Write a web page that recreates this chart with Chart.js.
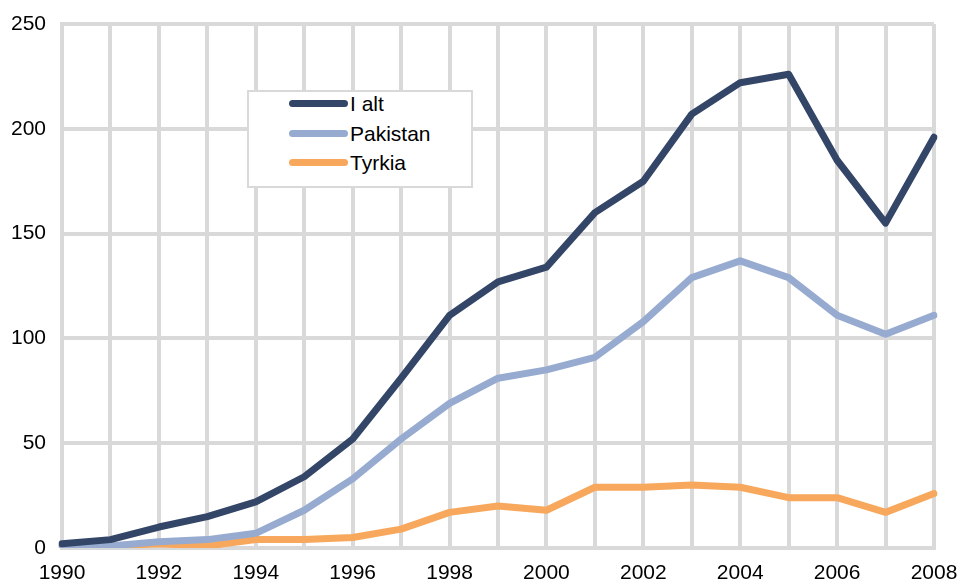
<!DOCTYPE html>
<html>
<head>
<meta charset="utf-8">
<script src="https://cdn.jsdelivr.net/npm/chart.js@4"></script>
<style>
  html, body { margin: 0; padding: 0; background: #fff; }
  #wrap { position: relative; width: 958px; height: 583px; }
  #legend {
    position: absolute; left: 247px; top: 90px; width: 222px; height: 94px;
    background: #fff; border: 2px solid #d9d9d9;
    font-family: "Liberation Sans", Arial, sans-serif; font-size: 21px; color: #000;
  }
  .item { position: absolute; left: 40px; height: 22px; line-height: 22px; }
  .item span.ln { position: absolute; left: 0; top: 7px; width: 59px; height: 7px; border-radius: 4px; }
  .item span.tx { position: absolute; left: 61px; top: 0; white-space: nowrap; }
</style>
</head>
<body>
<div id="wrap">
  <canvas id="chart" width="958" height="583"></canvas>
  <div id="legend"></div>
</div>
<script>
// Data
const years = ['1990','1991','1992','1993','1994','1995','1996','1997','1998','1999',
               '2000','2001','2002','2003','2004','2005','2006','2007','2008'];
const iAlt     = [2, 4, 10, 15, 22, 34, 52, 81, 111, 127, 134, 160, 175, 207, 222, 226, 185, 155, 196];
const pakistan = [1, 1, 3, 4, 7, 18, 33, 52, 69, 81, 85, 91, 108, 129, 137, 129, 111, 102, 111];
const tyrkia   = [1, 1, 2, 1, 4, 4, 5, 9, 17, 20, 18, 29, 29, 30, 29, 24, 24, 17, 26];
const yTicks = [0, 50, 100, 150, 200, 250];

const series = [
  { label: 'I alt', data: iAlt, color: '#344668' },
  { label: 'Pakistan', data: pakistan, color: '#97abd0' },
  { label: 'Tyrkia', data: tyrkia, color: '#f7a85c' }
];

const font = { family: '"Liberation Sans", Arial, sans-serif', size: 21 };
const gridColor = '#d9d9d9';

// Legend
const legend = document.getElementById('legend');
series.forEach((s, i) => {
  const div = document.createElement('div');
  div.className = 'item';
  div.style.top = (1 + i * 29.5) + 'px';
  div.innerHTML = `<span class="ln" style="background:${s.color}"></span><span class="tx">${s.label}</span>`;
  legend.appendChild(div);
});

const ctx = document.getElementById('chart').getContext('2d');
new Chart(ctx, {
  type: 'line',
  data: {
    labels: years,
    datasets: series.map(s => ({
      label: s.label,
      data: s.data,
      borderColor: s.color,
      backgroundColor: s.color,
      borderWidth: 7,
      pointRadius: 0,
      tension: 0,
      borderCapStyle: 'round',
      borderJoinStyle: 'round'
    }))
  },
  options: {
    responsive: false,
    animation: false,
    layout: { padding: { left: 0, right: 24, top: 24, bottom: 0 } },
    plugins: { legend: { display: false }, tooltip: { enabled: false } },
    scales: {
      x: {
        offset: false,
        grid: { color: gridColor, lineWidth: 4, drawTicks: false },
        border: { color: gridColor, width: 4 },
        ticks: {
          color: '#000', font: font, padding: 13, autoSkip: false, maxRotation: 0,
          callback: (v, i) => (i % 2 === 0 ? years[i] : '')
        },
        afterFit: s => { s.height = 35; s.paddingLeft = 0; s.paddingRight = 0; }
      },
      y: {
        min: 0, max: 250,
        afterBuildTicks: s => { s.ticks = yTicks.map(v => ({ value: v })); },
        grid: { color: gridColor, lineWidth: 4, drawTicks: false },
        border: { color: gridColor, width: 4 },
        ticks: { color: '#000', font: font, padding: 16 },
        afterFit: s => { s.width = 62; s.paddingTop = 0; s.paddingBottom = 0; }
      }
    }
  }
});
</script>
</body>
</html>
